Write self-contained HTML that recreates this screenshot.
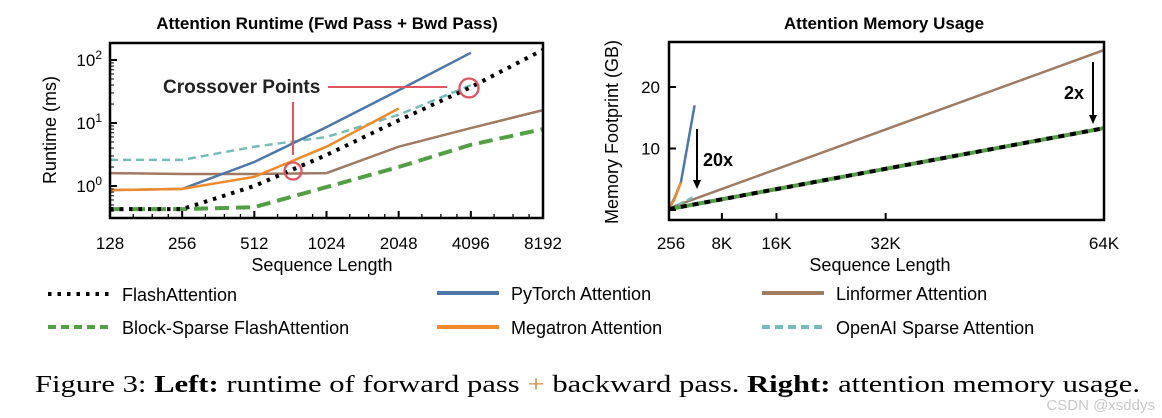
<!DOCTYPE html>
<html><head><meta charset="utf-8"><style>
body{margin:0;background:#fff;width:1162px;height:418px;overflow:hidden;font-family:"Liberation Sans",sans-serif}
svg{position:absolute;left:0;top:0}
</style></head><body>
<svg id="fig" width="1162" height="418" font-family="Liberation Sans, sans-serif">
<text x="327" y="29" text-anchor="middle" font-size="17" font-weight="bold">Attention Runtime (Fwd Pass + Bwd Pass)</text>
<text x="884" y="29" text-anchor="middle" font-size="17" font-weight="bold">Attention Memory Usage</text>
<g id="left"></g>
<g id="right"></g>
<text x="322" y="271" text-anchor="middle" font-size="18">Sequence Length</text>
<text x="880" y="271" text-anchor="middle" font-size="18">Sequence Length</text>
<text transform="translate(56,130) rotate(-90)" text-anchor="middle" font-size="18">Runtime (ms)</text>
<text transform="translate(618,132) rotate(-90)" text-anchor="middle" font-size="18">Memory Footprint (GB)</text>
<g id="legend"></g>
<text x="35" y="392" font-family="Liberation Serif, serif" font-size="24" textLength="1105" lengthAdjust="spacingAndGlyphs">Figure 3: <tspan font-weight="bold">Left:</tspan> runtime of forward pass <tspan fill="#d98a4a">+</tspan> backward pass. <tspan font-weight="bold">Right:</tspan> attention memory usage.</text>
<text x="1155" y="410" text-anchor="end" font-size="15" fill="#c8c8c8">CSDN @xsddys</text>
</svg>
<script>
const NS="http://www.w3.org/2000/svg";
const leftTicks=[128,256,512,1024,2048,4096,8192];
const leftTickLabels=["128","256","512","1024","2048","4096","8192"];
const flashRt=[0.43,0.43,1.0,3.1,11,37,145];
const blockRt=[0.43,0.43,0.46,0.96,2.0,4.5,8.0];
const pytorchRt=[0.86,0.9,2.4,8.6,33,130];
const megatronRt=[0.86,0.9,1.4,4.2,17];
const linformerRt=[1.6,1.55,1.55,1.6,4.2,8.3,16];
const openaiRt=[2.6,2.6,4.2,6,13.5,40];
const rightTicks=[256,8192,16384,32768,65536];
const rightTickLabels=["256","8K","16K","32K","64K"];
const memSeq=[256,65536];
const flashMem=[0.15,13.3];
const linformerMem=[0.3,26];
const pytorchSeq=[256,1024,2048,4096];
const pytorchMem=[0.3,1.8,4.5,17];
const megatronSeq=[256,1024,2048];
const megatronMem=[0.3,1.6,4.5];
const openaiSeq=[256,1024,2048,4096];
const openaiMem=[0.2,0.6,1.1,2.2];
const yTicksR=[0,10,20];

function el(t,a,p){const e=document.createElementNS(NS,t);for(const k in a)e.setAttribute(k,a[k]);p.appendChild(e);return e;}
const LX0=110,LX1=543,LY0=43,LY1=218;
const lx=v=>LX0+(Math.log2(v)-7)*(LX1-LX0)/6;
const ly=v=>186-63*Math.log10(v);
const L=document.getElementById('left');
function line(g,xs,ys,fx,fy,stroke,w,dash,name){
  const d=xs.slice(0,ys.length).map((x,i)=>(i?'L':'M')+fx(x).toFixed(1)+','+fy(ys[i]).toFixed(1)).join(' ');
  const p=el('path',{d:d,fill:'none',stroke:stroke,'stroke-width':w,'stroke-dasharray':dash||'none'},g);
  
  
}
line(L,leftTicks,linformerRt,lx,ly,'#a07a62',2.5,'','linformer-runtime-line');
line(L,leftTicks,openaiRt,lx,ly,'#76bcb8',2.5,'8 5','openai-runtime-line');
line(L,leftTicks,pytorchRt,lx,ly,'#4d77a8',2.5,'','pytorch-runtime-line');
line(L,leftTicks,megatronRt,lx,ly,'#f08a2a',2.5,'','megatron-runtime-line');
line(L,leftTicks,blockRt,lx,ly,'#53a044',4,'14 7','block-sparse-runtime-line');
line(L,leftTicks,flashRt,lx,ly,'#000',4,'3.5 6','flash-runtime-line');
let fr=el('rect',{x:LX0,y:LY0,width:LX1-LX0,height:LY1-LY0,fill:'none',stroke:'#000','stroke-width':2.5},L);

leftTicks.forEach((v,i)=>{
  el('line',{x1:lx(v),x2:lx(v),y1:LY1,y2:LY1-7,stroke:'#000','stroke-width':2},L);
  if(i<6)[1.25,1.5,1.75].forEach(f=>el('line',{x1:lx(v*f),x2:lx(v*f),y1:LY1,y2:LY1-4,stroke:'#000','stroke-width':1.3},L));
  const t=el('text',{x:lx(v),y:249,'text-anchor':'middle','font-size':17},L);t.textContent=leftTickLabels[i];
  
});
[1,10,100].forEach((v,i)=>{
  el('line',{x1:LX0,x2:LX0+7,y1:ly(v),y2:ly(v),stroke:'#000','stroke-width':2},L);
  const t=el('text',{x:LX0-8,y:ly(v)+6,'text-anchor':'end','font-size':17},L);
  t.innerHTML='10<tspan dy="-7" font-size="12">'+i+'</tspan>';
  
});
[0.4,0.5,0.6,0.7,0.8,0.9,2,3,4,5,6,7,8,9,20,30,40,50,60,70,80,90,200].forEach(v=>{const y=ly(v);if(y>LY0&&y<LY1)el('line',{x1:LX0,x2:LX0+4,y1:y,y2:y,stroke:'#000','stroke-width':1},L);});
let ct=el('text',{x:163,y:93,'font-size':19,'font-weight':'bold',fill:'#222'},L);ct.textContent='Crossover Points';

el('line',{x1:328,x2:447,y1:87,y2:87,stroke:'#e05560','stroke-width':2},L);
el('line',{x1:293,x2:293,y1:102,y2:155,stroke:'#e05560','stroke-width':2},L);
let c1=el('circle',{cx:293,cy:171,r:8.5,fill:'none',stroke:'#e05560','stroke-width':2.3},L);

let c2=el('circle',{cx:469,cy:88,r:9.5,fill:'none',stroke:'#e05560','stroke-width':2.3},L);


const RX0=669,RX1=1104,RY0=42,RY1=220;
const rx=v=>RX0+(v-256)*(RX1-RX0)/(65536-256);
const ry=v=>210-6.15*v;
const R=document.getElementById('right');
line(R,memSeq,linformerMem,rx,ry,'#a07a62',2.5,'','linformer-memory-line');
line(R,openaiSeq,openaiMem,rx,ry,'#76bcb8',2.5,'6 4','openai-memory-line');
line(R,pytorchSeq,pytorchMem,rx,ry,'#4d77a8',2.5,'','pytorch-memory-line');
line(R,megatronSeq,megatronMem,rx,ry,'#f08a2a',2.5,'','megatron-memory-line');
line(R,memSeq,flashMem,rx,ry,'#53a044',4,'','block-sparse-memory-line');
line(R,memSeq,flashMem,rx,ry,'#000',4,'6 6','flash-memory-line');
fr=el('rect',{x:RX0,y:RY0,width:RX1-RX0,height:RY1-RY0,fill:'none',stroke:'#000','stroke-width':2.5},R);

rightTicks.forEach((v,i)=>{
  el('line',{x1:rx(v),x2:rx(v),y1:RY1,y2:RY1-7,stroke:'#000','stroke-width':2},R);
  const t=el('text',{x:rx(v)+(i==0?2:0),y:249,'text-anchor':'middle','font-size':17},R);t.textContent=rightTickLabels[i];
  
});
yTicksR.forEach(v=>{
  el('line',{x1:RX0,x2:RX0+7,y1:ry(v),y2:ry(v),stroke:'#000','stroke-width':2},R);
  if(v){const t=el('text',{x:RX0-9,y:ry(v)+6,'text-anchor':'end','font-size':17},R);t.textContent=v;
  }
});
function arrow(x,y1,y2,name){
  el('line',{x1:x,x2:x,y1:y1,y2:y2-8,stroke:'#000','stroke-width':2},R);
  const p=el('path',{d:`M${x-4},${y2-9} L${x+4},${y2-9} L${x},${y2} Z`,fill:'#000'},R);
  
}
arrow(697,129,189,'20x-arrow');arrow(1093,62,124,'2x-arrow');
let a1=el('text',{x:703,y:166,'font-size':18,'font-weight':'bold'},R);a1.textContent='20x';

let a2=el('text',{x:1064,y:99,'font-size':18,'font-weight':'bold'},R);a2.textContent='2x';


const G=document.getElementById('legend');
const legendItems=[
 ['FlashAttention',48,294,'#000',4,'3.5 6'],
 ['PyTorch Attention',437,293,'#4d77a8',4,''],
 ['Linformer Attention',762,293,'#a07a62',4,''],
 ['Block-Sparse FlashAttention',48,327,'#53a044',4,'8 5'],
 ['Megatron Attention',437,327,'#f08a2a',4,''],
 ['OpenAI Sparse Attention',762,327,'#76bcb8',4,'8 5']];
legendItems.forEach(it=>{
  const g=el('g',{},G);
  
  
  el('line',{x1:it[1],x2:it[1]+62,y1:it[2],y2:it[2],stroke:it[3],'stroke-width':it[4],'stroke-dasharray':it[5]||'none'},g);
  const t=el('text',{x:it[1]+74,y:it[2]+7,'font-size':18},g);t.textContent=it[0];
});
</script>
</body></html>
